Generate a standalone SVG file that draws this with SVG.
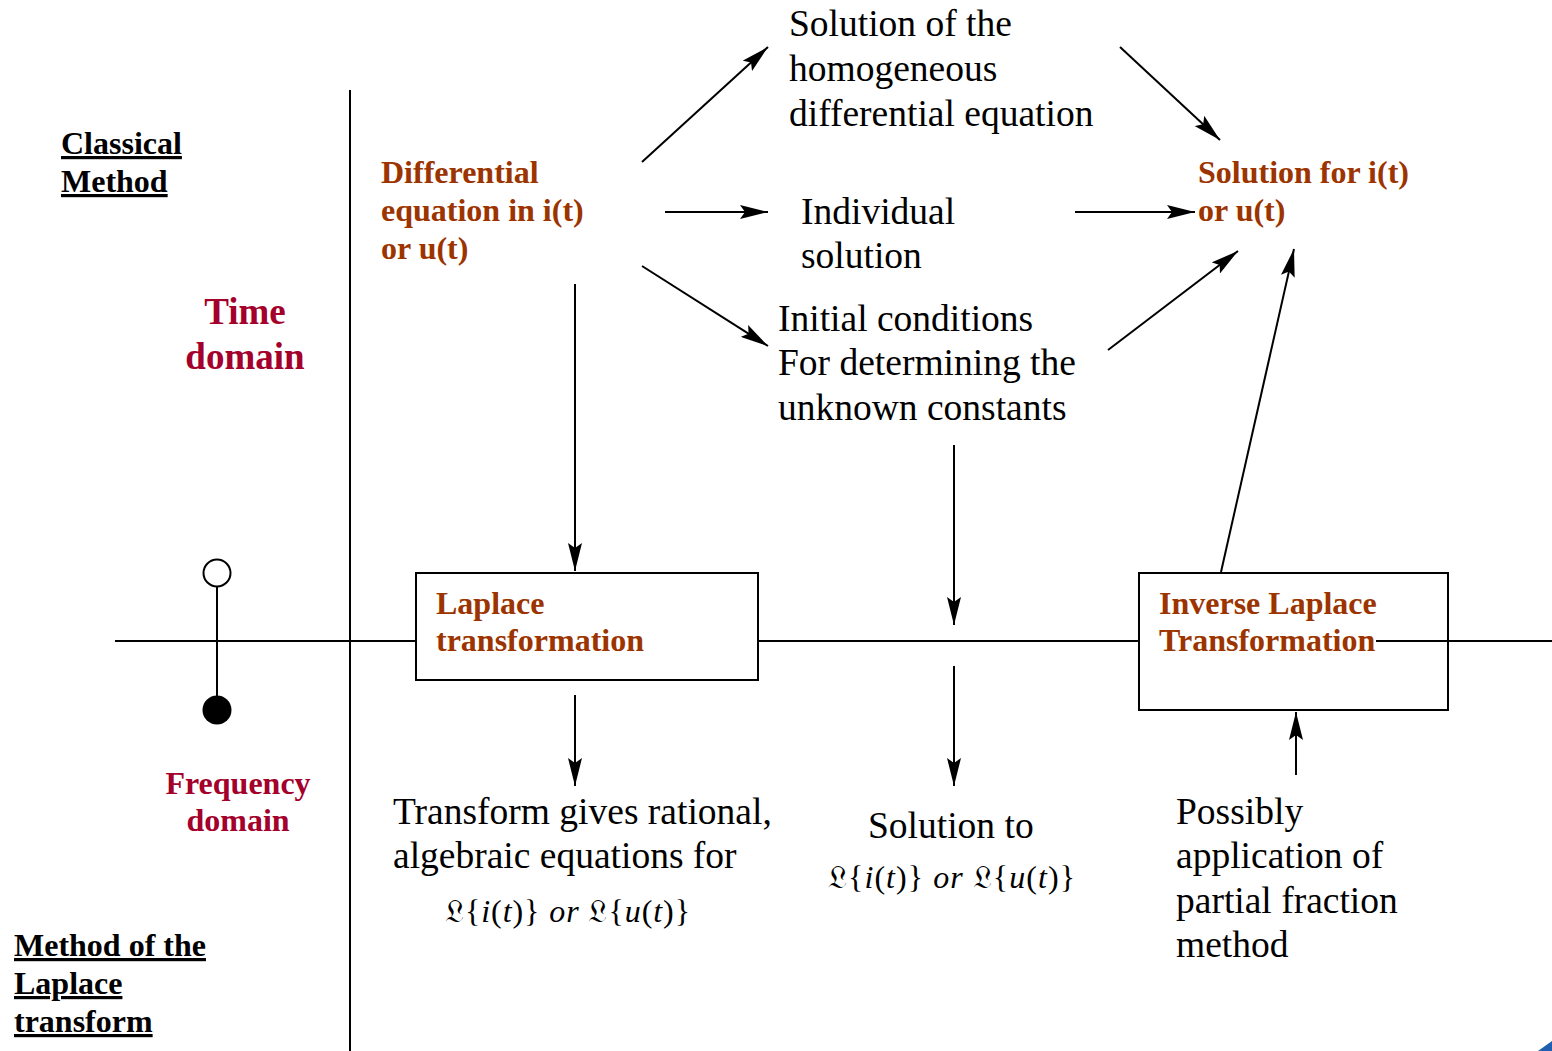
<svg xmlns="http://www.w3.org/2000/svg" width="1552" height="1051" viewBox="0 0 1552 1051">
<style>
.t{font-family:"Liberation Serif","Times New Roman",serif;font-size:37.5px;fill:#000}
.o{font-family:"Liberation Serif","Times New Roman",serif;font-size:32px;font-weight:bold;fill:#9C3400}
.r{font-family:"Liberation Serif","Times New Roman",serif;font-size:37px;font-weight:bold;fill:#A3002B}
.rf{font-family:"Liberation Serif","Times New Roman",serif;font-size:32px;font-weight:bold;fill:#A3002B}
.h{font-family:"Liberation Serif","Times New Roman",serif;font-size:32px;font-weight:bold;fill:#000;text-decoration:underline}
.m{font-family:"Liberation Serif","DejaVu Serif","Times New Roman",serif;font-size:32px;fill:#000}
.l{stroke:#000;stroke-width:2;fill:none}
.a{stroke:#000;stroke-width:2;fill:none;marker-end:url(#ah)}
.box{stroke:#000;stroke-width:2;fill:#fff}
</style>
<defs>
<marker id="ah" markerUnits="userSpaceOnUse" markerWidth="30" markerHeight="14" refX="28" refY="7" orient="auto">
<path d="M0,0 L28,7 L0,14 L5,7 Z" fill="#000"/>
</marker>
</defs>
<rect width="1552" height="1051" fill="#fff"/>
<g id="axes">
<line class="l" x1="350" y1="90" x2="350" y2="1051"/>
<line class="l" x1="115" y1="641" x2="415" y2="641"/>
<line class="l" x1="758" y1="641" x2="1139" y2="641"/>
<line class="l" x1="1448" y1="641" x2="1552" y2="641"/>
</g>
<g id="switch">
<line class="l" x1="217" y1="587" x2="217" y2="697"/>
<circle cx="217" cy="573" r="13.5" fill="#fff" stroke="#000" stroke-width="2"/>
<circle cx="217" cy="710" r="14.5" fill="#000"/>
</g>
<g id="connectors">
<line class="a" x1="642" y1="162" x2="768" y2="47"/>
<line class="a" x1="665" y1="212" x2="768" y2="212"/>
<line class="a" x1="642" y1="266" x2="768" y2="346"/>
<line class="a" x1="1120" y1="47" x2="1220" y2="140"/>
<line class="a" x1="1075" y1="212" x2="1195" y2="212"/>
<line class="a" x1="1108" y1="350" x2="1238" y2="251"/>
<line class="a" x1="1221" y1="572" x2="1294" y2="249"/>
<line class="a" x1="575" y1="284" x2="575" y2="571"/>
<line class="a" x1="954" y1="445" x2="954" y2="625"/>
<line class="a" x1="954" y1="666" x2="954" y2="786"/>
<line class="a" x1="575" y1="695" x2="575" y2="786"/>
<line class="a" x1="1296" y1="775" x2="1296" y2="712"/>
</g>
<g id="classical">
<text class="h" x="61" y="154">Classical</text>
<text class="h" x="61" y="192">Method</text>
</g>
<g id="time-domain">
<text class="r" x="245" y="324" text-anchor="middle">Time</text>
<text class="r" x="245" y="369" text-anchor="middle">domain</text>
</g>
<g id="frequency-domain">
<text class="rf" x="238" y="794" text-anchor="middle">Frequency</text>
<text class="rf" x="238" y="831" text-anchor="middle">domain</text>
</g>
<g id="laplace-method">
<text class="h" x="14" y="956">Method of the</text>
<text class="h" x="14" y="994">Laplace</text>
<text class="h" x="14" y="1032">transform</text>
</g>
<g id="diff-eq">
<text class="o" x="381" y="183">Differential</text>
<text class="o" x="381" y="221">equation in i(t)</text>
<text class="o" x="381" y="259">or u(t)</text>
</g>
<g id="homogeneous">
<text class="t" x="789" y="36">Solution of the</text>
<text class="t" x="789" y="81">homogeneous</text>
<text class="t" x="789" y="126">differential equation</text>
</g>
<g id="individual">
<text class="t" x="801" y="224">Individual</text>
<text class="t" x="801" y="268">solution</text>
</g>
<g id="initial">
<text class="t" x="778" y="331">Initial conditions</text>
<text class="t" x="778" y="375">For determining the</text>
<text class="t" x="778" y="420">unknown constants</text>
</g>
<g id="solution">
<text class="o" x="1198" y="183">Solution for i(t)</text>
<text class="o" x="1198" y="221">or u(t)</text>
</g>
<g id="laplace-box">
<rect class="box" x="416" y="573" width="342" height="107"/>
<text class="o" x="436" y="614">Laplace</text>
<text class="o" x="436" y="651">transformation</text>
</g>
<g id="inverse-box">
<rect class="box" x="1139" y="573" width="309" height="137"/>
<line class="l" x1="1376" y1="641" x2="1448" y2="641"/>
<text class="o" x="1159" y="614">Inverse Laplace</text>
<text class="o" x="1159" y="651">Transformation</text>
</g>
<g id="transform-gives">
<text class="t" x="393" y="824">Transform gives rational,</text>
<text class="t" x="393" y="868">algebraic equations for</text>
<text class="m" x="445" y="922" textLength="245" lengthAdjust="spacing">𝔏{<tspan font-style="italic">i</tspan>(<tspan font-style="italic">t</tspan>)}  <tspan font-style="italic">or</tspan>  𝔏{<tspan font-style="italic">u</tspan>(<tspan font-style="italic">t</tspan>)}</text>
</g>
<g id="solution-to">
<text class="t" x="868" y="838">Solution to</text>
<text class="m" x="828" y="888" textLength="247" lengthAdjust="spacing">𝔏{<tspan font-style="italic">i</tspan>(<tspan font-style="italic">t</tspan>)}  <tspan font-style="italic">or</tspan>  𝔏{<tspan font-style="italic">u</tspan>(<tspan font-style="italic">t</tspan>)}</text>
</g>
<g id="partial-fraction">
<text class="t" x="1176" y="824">Possibly</text>
<text class="t" x="1176" y="868">application of</text>
<text class="t" x="1176" y="913">partial fraction</text>
<text class="t" x="1176" y="957">method</text>
</g>
<path d="M1538,1051 L1552,1041 L1552,1051 Z" fill="#1F5FAF"/>
</svg>
